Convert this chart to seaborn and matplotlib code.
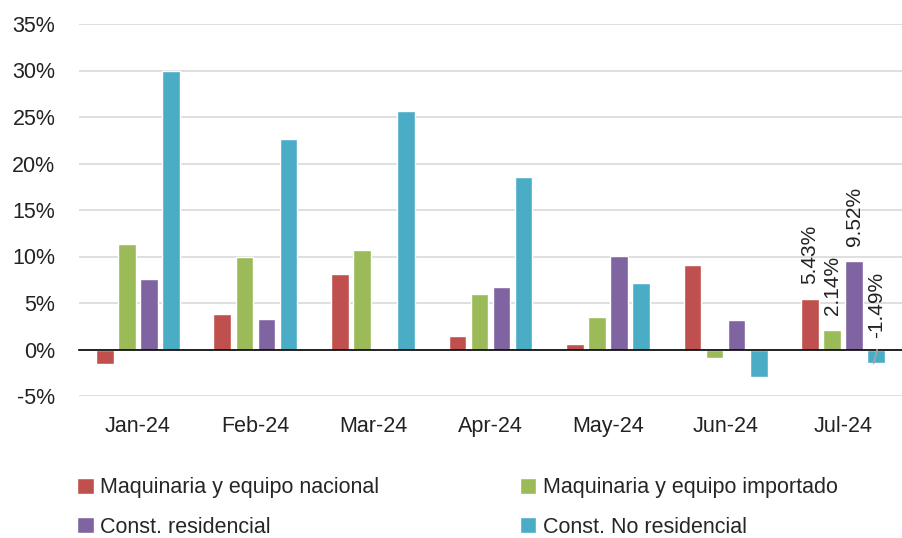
import pandas as pd
import matplotlib.pyplot as plt
import seaborn as sns
from matplotlib.ticker import FuncFormatter, MultipleLocator, FixedLocator

# --- data (percent growth) ---
months = ['Jan-24', 'Feb-24', 'Mar-24', 'Apr-24', 'May-24', 'Jun-24', 'Jul-24']
series = ['Maquinaria y equipo nacional', 'Maquinaria y equipo importado',
          'Const. residencial', 'Const. No residencial']
nacional = [-1.6, 3.8, 8.1, 1.4, 0.6, 9.1, 5.43]
importado = [11.3, 10.0, 10.7, 6.0, 3.5, -0.9, 2.14]
residencial = [7.6, 3.3, 0.1, 6.7, 10.1, 3.2, 9.52]
no_residencial = [30.0, 22.6, 25.6, 18.6, 7.2, -3.0, -1.49]
colors = ['#C0504D', '#9BBB59', '#8064A2', '#4BACC6']

df = pd.DataFrame({'Mes': months * 4,
                   'Serie': [s for s in series for _ in months],
                   'Valor': nacional + importado + residencial + no_residencial})

sns.set_style('white')
plt.rcParams['font.family'] = ['Liberation Sans', 'DejaVu Sans']

fig = plt.figure(figsize=(9.02, 5.38), dpi=100)
ax = fig.add_axes([79 / 902, 1 - 396 / 538, 1 - 79 / 902, (396 - 24) / 538])

sns.barplot(data=df, x='Mes', y='Valor', hue='Serie', palette=colors,
            width=0.75, gap=0.2, ax=ax, saturation=1)

handles, labels = ax.get_legend_handles_labels()
ax.get_legend().remove()

ax.set_ylim(-5, 35)
ax.set_xlim(-0.5, len(months) - 0.5)
ax.yaxis.set_major_locator(MultipleLocator(5))
ax.yaxis.set_major_formatter(FuncFormatter(lambda v, p: f'{v:.0f}%'))
ax.grid(axis='y', color='#D9D9D9', lw=1.2)
ax.set_axisbelow(True)
ax.set_xlabel('')
ax.set_ylabel('')

for s in ['left', 'right', 'top']:
    ax.spines[s].set_visible(False)
ax.spines['bottom'].set_position(('data', 0))
ax.spines['bottom'].set_color('black')
ax.spines['bottom'].set_linewidth(1.2)

ax.xaxis.set_minor_locator(FixedLocator([i - 0.5 for i in range(len(months) + 1)]))
ax.tick_params(axis='x', which='major', length=0, pad=48, labelsize=15.5, labelcolor='#222222')
ax.tick_params(axis='x', which='minor', length=5, width=1.2, color='black', direction='out')
ax.tick_params(axis='y', length=0, pad=17, labelsize=15.5, labelcolor='#222222')

# data labels on the last month
for cont, vals in zip(ax.containers, [nacional, importado, residencial, no_residencial]):
    bar = cont.patches[-1]
    v = vals[-1]
    xc = bar.get_x() + bar.get_width() / 2
    base = v + 1.6 if v > 0 else 1.2
    ax.text(xc, base, f'{v:.2f}%',
            rotation=90, ha='center', va='bottom', fontsize=15, color='#222222')
    if v < 0:
        # leader line from the negative bar to its label
        ax.plot([xc - bar.get_width() * 0.15, xc + bar.get_width() * 0.05], [v, 0],
                color='#A6A6A6', lw=1.2, zorder=5)

# legend filled row by row
order = [0, 2, 1, 3]
fig.legend([handles[i] for i in order], [labels[i] for i in order],
           loc='upper left', bbox_to_anchor=(58 / 902, 1 - 458 / 538),
           ncol=2, frameon=False, handlelength=0.75, handleheight=0.75,
           handletextpad=0.3, columnspacing=6.55, labelspacing=0.85,
           prop={'family': ['Liberation Sans', 'DejaVu Sans'], 'size': 15.5})

fig.savefig('out.png', dpi=100)
